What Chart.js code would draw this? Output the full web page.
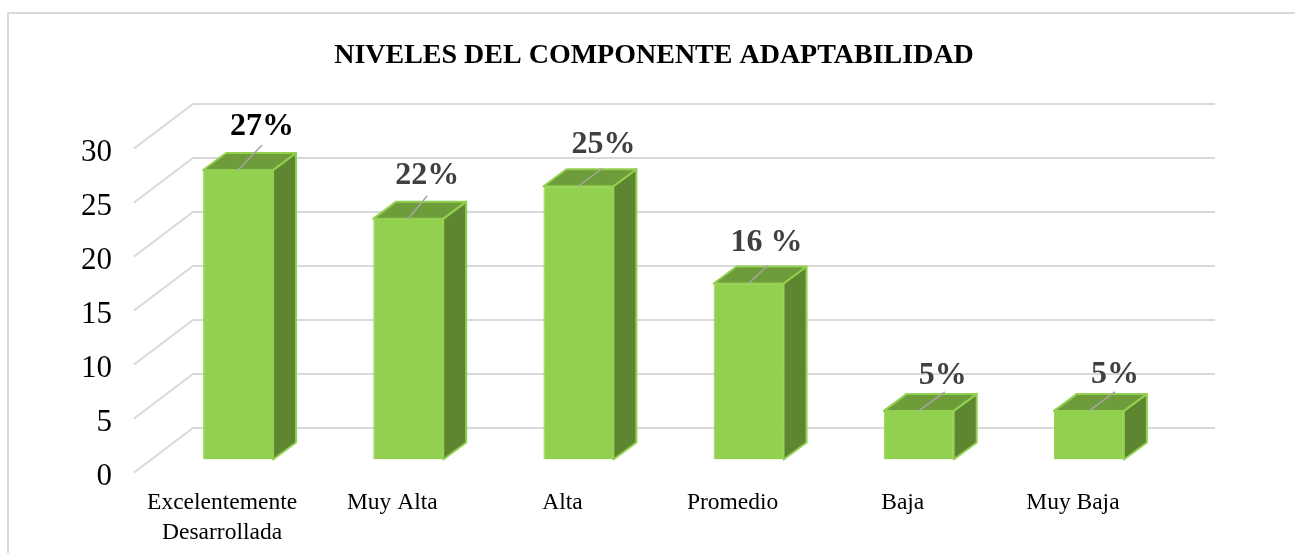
<!DOCTYPE html>
<html><head><meta charset="utf-8">
<style>html,body{margin:0;padding:0;background:#fff}#w{width:1295px;height:553px;overflow:hidden}canvas{display:block}</style>
<script src="https://cdn.jsdelivr.net/npm/chart.js@4"></script>
</head><body><div id="w"><canvas id="c" width="1295" height="553"></canvas></div>
<script>
const categories = [["Excelentemente","Desarrollada"],"Muy Alta","Alta","Promedio","Baja","Muy Baja"];
const values = [26.8,22.3,25.3,16.3,4.5,4.5];
const valueLabels = ["27%","22%","25%","16 %","5%","5%"];
const titleText = "NIVELES DEL COMPONENTE ADAPTABILIDAD";

const FONT = '"Liberation Serif","Times New Roman",serif';
const labelNudge = [[24,-43],[19,-43],[25,-42],[18,-41],[24,-35],[26,-36]];
const leaderEnd = [[24,-25],[19,-23],[24,-18],[19,-18],[26,-19],[26,-19]];

const scene = {
  id:'scene',
  afterLayout(chart){ chart.scales.y.left = 40; },
  beforeDraw(chart){
    const ctx=chart.ctx; ctx.save();
    ctx.strokeStyle='#D9D9D9'; ctx.lineWidth=2; ctx.beginPath();
    ctx.moveTo(8,553); ctx.lineTo(8,13); ctx.lineTo(1295,13); ctx.stroke();
    ctx.restore();
  },
  beforeDatasetsDraw(chart){
    const ctx=chart.ctx, y=chart.scales.y, a=chart.chartArea;
    ctx.save();
    ctx.strokeStyle='#D9D9D9'; ctx.lineWidth=2;
    y.ticks.forEach(t=>{
      const p=y.getPixelForValue(t.value);
      ctx.beginPath();
      ctx.moveTo(a.left-19,p+13); ctx.lineTo(a.left+40,p-31.5); ctx.lineTo(1215,p-31.5);
      ctx.stroke();
    });
    const dx=23, dy=-17;
    chart.getDatasetMeta(0).data.forEach(b=>{
      const r=b.x+b.width/2, l=b.x-b.width/2;
      ctx.lineWidth=2; ctx.strokeStyle='#92D050'; ctx.lineJoin='round';
      ctx.fillStyle='#5E8631'; ctx.beginPath();
      ctx.moveTo(r,b.y); ctx.lineTo(r+dx,b.y+dy); ctx.lineTo(r+dx,b.base+dy); ctx.lineTo(r,b.base); ctx.closePath();
      ctx.fill(); ctx.stroke();
      ctx.fillStyle='#6F9C3A'; ctx.beginPath();
      ctx.moveTo(l,b.y); ctx.lineTo(l+dx,b.y+dy); ctx.lineTo(r+dx,b.y+dy); ctx.lineTo(r,b.y); ctx.closePath();
      ctx.fill(); ctx.stroke();
    });
    ctx.restore();
  },
  afterDatasetsDraw(chart){
    const ctx=chart.ctx; ctx.save();
    ctx.textAlign='center'; ctx.textBaseline='middle';
    chart.getDatasetMeta(0).data.forEach((b,i)=>{
      ctx.strokeStyle='#A6A6A6'; ctx.lineWidth=1.5; ctx.beginPath();
      ctx.moveTo(b.x,b.y); ctx.lineTo(b.x+leaderEnd[i][0],b.y+leaderEnd[i][1]); ctx.stroke();
      ctx.fillStyle= i===0 ? '#000000' : '#404040';
      ctx.font='bold 32px '+FONT;
      ctx.fillText(valueLabels[i],b.x+labelNudge[i][0],b.y+labelNudge[i][1]);
    });
    ctx.restore();
  }
};

new Chart(document.getElementById('c'),{
  type:'bar',
  data:{labels:categories,datasets:[{data:values,backgroundColor:'#92D050',borderColor:'#92D050',borderWidth:1,
    barPercentage:0.411,categoryPercentage:1}]},
  plugins:[scene],
  options:{
    responsive:false,animation:false,
    layout:{padding:{left:134,right:121,top:0,bottom:0}},
    plugins:{
      legend:{display:false},tooltip:{enabled:false},
      title:{display:true,text:titleText,color:'#000',font:{family:FONT,size:28,weight:'bold',lineHeight:1.2},padding:{top:39,bottom:62.9}}
    },
    scales:{
      x:{grid:{display:false},border:{display:false},
        afterFit(s){s.height=93.5;},
        ticks:{autoSkip:false,maxRotation:0,minRotation:0,color:'#000',padding:20.5,labelOffset:-16,
          font:{family:FONT,size:23.5,lineHeight:1.28}}},
      y:{min:0,max:30,grid:{display:false},border:{display:false},
        afterFit(s){s.width=19;},
        ticks:{stepSize:5,color:'#000',padding:33,labelOffset:17,font:{family:FONT,size:31}}}
    }
  }
});
</script></body></html>
